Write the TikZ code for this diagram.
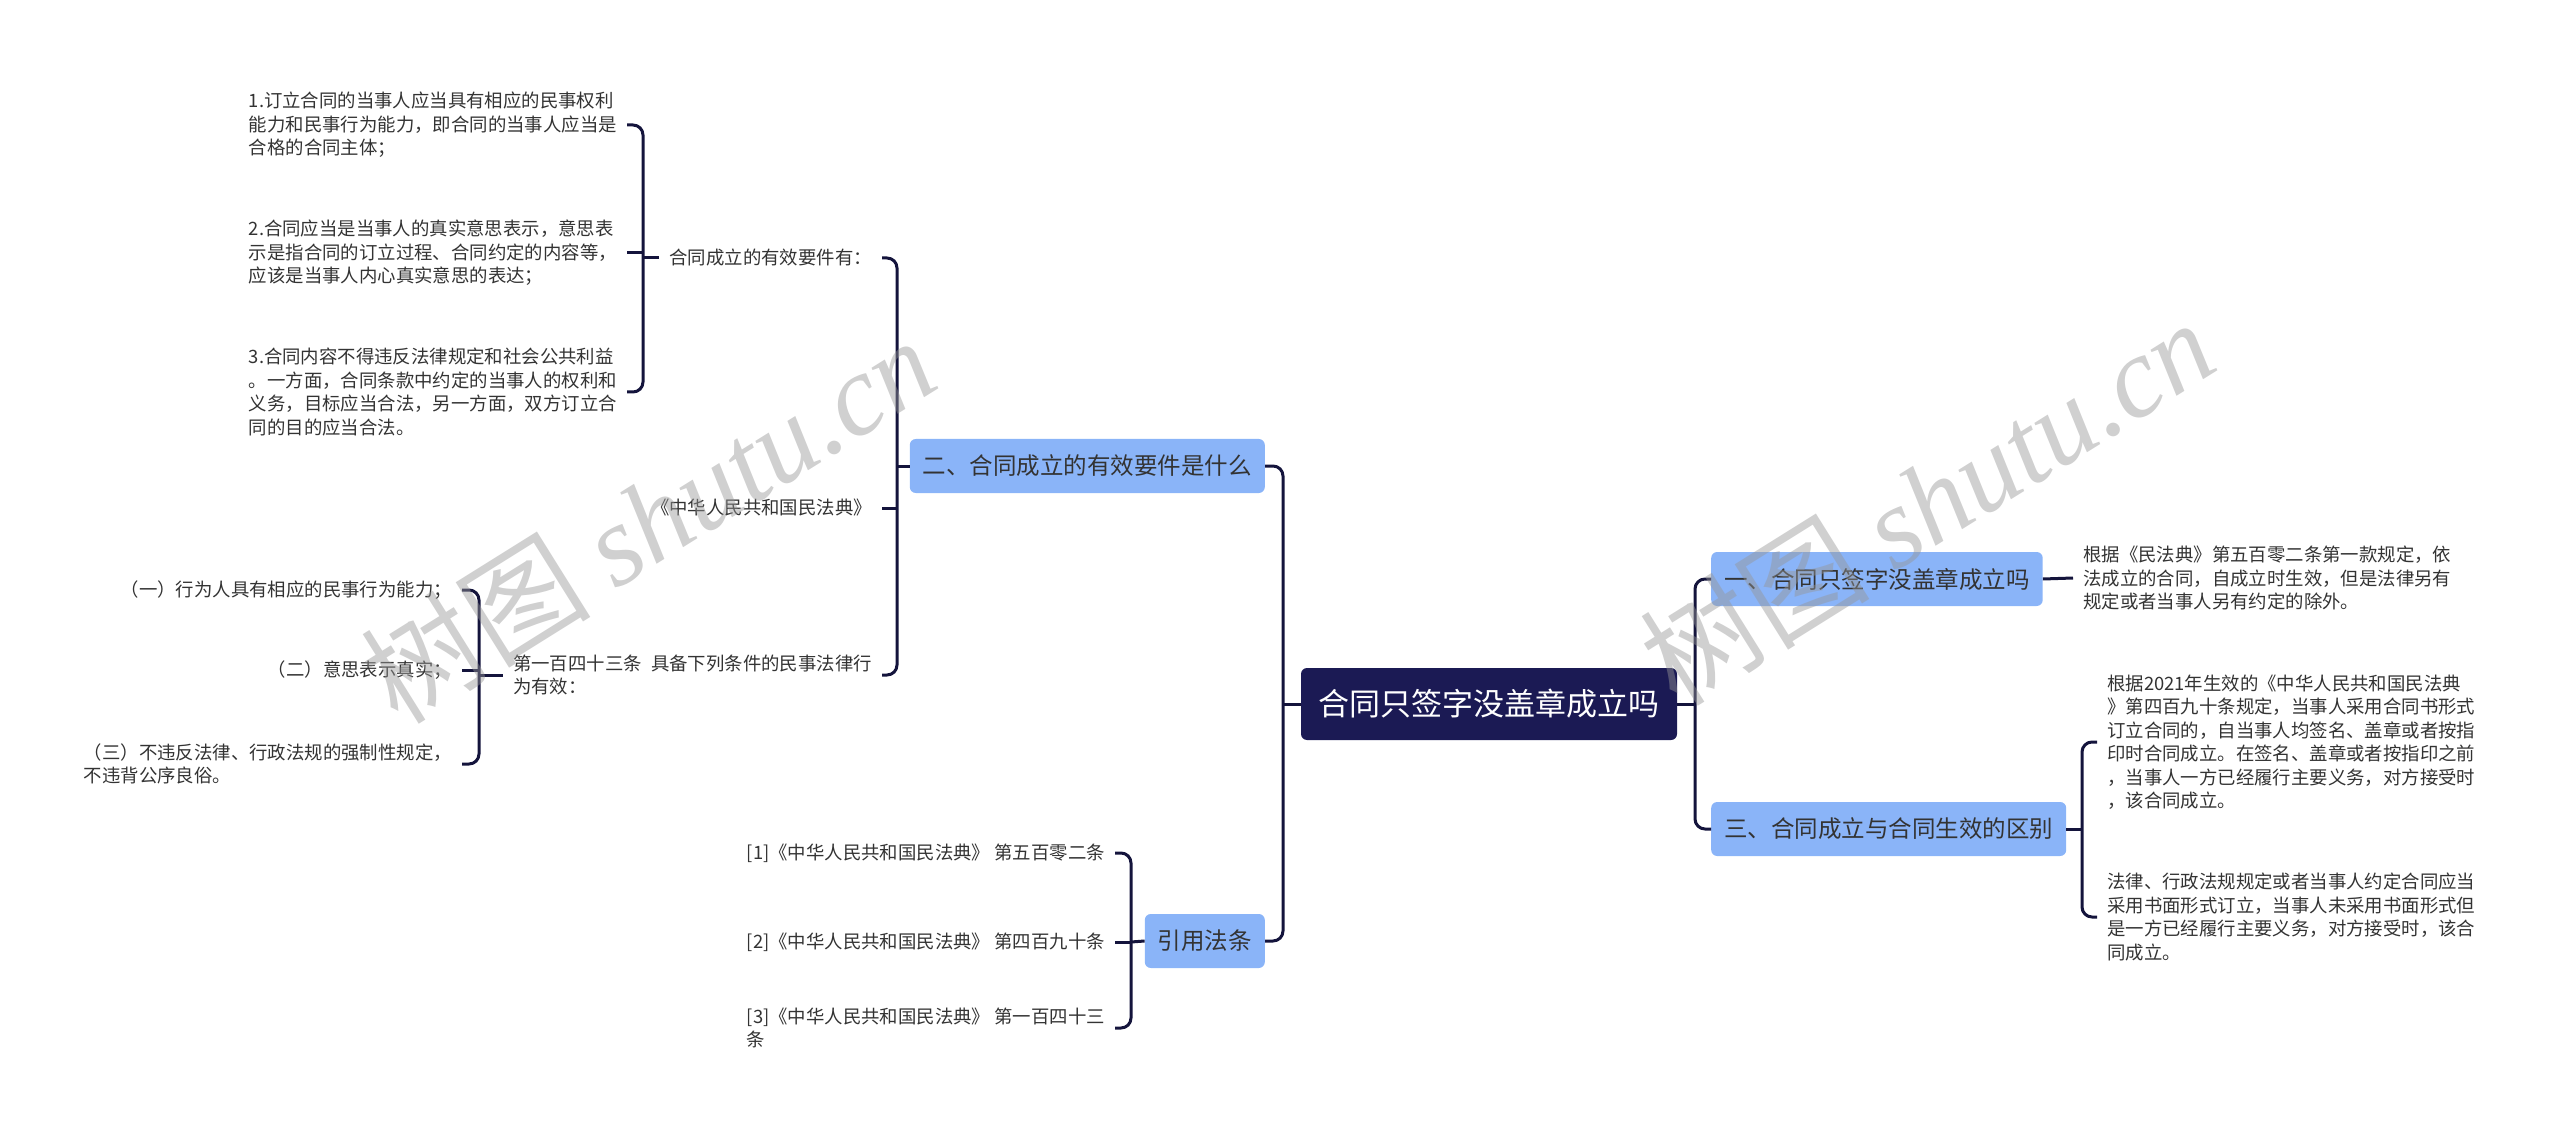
\documentclass[tikz,border=0pt]{standalone}
\usepackage{fontspec}
\setmainfont{Noto Sans CJK SC}
\newfontfamily\wmlatin{Liberation Serif}
\usetikzlibrary{calc}
\definecolor{navy}{RGB}{27,26,84}
\definecolor{linec}{RGB}{20,20,60}
\definecolor{bluef}{RGB}{138,180,248}
\definecolor{txt}{RGB}{51,51,51}
\definecolor{wmc}{RGB}{150,150,150}
\begin{document}
\begin{tikzpicture}[x=1pt,y=-1pt,
  conn/.style={draw=linec,line width=3pt,rounded corners=10pt},
  rootbox/.style={fill=navy,text=white,rounded corners=6pt,minimum width=376pt,minimum height=72pt,font=\fontsize{31}{36}\selectfont,inner sep=0pt},
  topic/.style={fill=bluef,text=txt,rounded corners=6pt,minimum height=54pt,inner xsep=13pt,inner ysep=0pt,font=\fontsize{23.5}{28}\selectfont},
  leaf/.style={text=txt,align=left,inner xsep=10pt,inner ysep=2pt,font=\fontsize{18.4}{23.5}\selectfont},
  wmark/.style={rotate=32,text=wmc,text opacity=0.45,font=\fontsize{115}{120}\selectfont},
]
\useasboundingbox (0,0) rectangle (2560,1139);

% main nodes
\node[rootbox] (root) at (1489,704) {合同只签字没盖章成立吗};
\node[topic,anchor=west] (n1) at (1711,579) {一、合同只签字没盖章成立吗};
\node[topic,anchor=west] (n3) at (1711,829) {三、合同成立与合同生效的区别};
\node[topic,anchor=east] (n2) at (1265,466) {二、合同成立的有效要件是什么};
\node[topic,anchor=east] (n4) at (1265,941) {引用法条};

% right leaves
\node[leaf,anchor=west] (r1) at (2073,578) {根据《民法典》第五百零二条第一款规定，依\\法成立的合同，自成立时生效，但是法律另有\\规定或者当事人另有约定的除外。};
\node[leaf,anchor=west] (r2) at (2097,742) {根据2021年生效的《中华人民共和国民法典\\》第四百九十条规定，当事人采用合同书形式\\订立合同的，自当事人均签名、盖章或者按指\\印时合同成立。在签名、盖章或者按指印之前\\，当事人一方已经履行主要义务，对方接受时\\，该合同成立。};
\node[leaf,anchor=west] (r3) at (2097,917) {法律、行政法规规定或者当事人约定合同应当\\采用书面形式订立，当事人未采用书面形式但\\是一方已经履行主要义务，对方接受时，该合\\同成立。};

% left leaves
\node[leaf,anchor=east] (a1) at (882,258) {合同成立的有效要件有：};
\node[leaf,anchor=east] (a2) at (882,508) {《中华人民共和国民法典》};
\node[leaf,anchor=east] (a3) at (882,675) {第一百四十三条\hspace{0.5em}具备下列条件的民事法律行\\为有效：};
\node[leaf,anchor=east] (L1) at (627,125) {1.订立合同的当事人应当具有相应的民事权利\\能力和民事行为能力，即合同的当事人应当是\\合格的合同主体；};
\node[leaf,anchor=east] (L2) at (627,253) {2.合同应当是当事人的真实意思表示，意思表\\示是指合同的订立过程、合同约定的内容等，\\应该是当事人内心真实意思的表达；};
\node[leaf,anchor=east] (L3) at (627,392) {3.合同内容不得违反法律规定和社会公共利益\\。一方面，合同条款中约定的当事人的权利和\\义务，目标应当合法，另一方面，双方订立合\\同的目的应当合法。};
\node[leaf,anchor=east] (c1) at (462,590) {（一）行为人具有相应的民事行为能力；};
\node[leaf,anchor=east] (c2) at (462,670) {（二）意思表示真实；};
\node[leaf,anchor=east] (c3) at (462,764) {（三）不违反法律、行政法规的强制性规定，\\不违背公序良俗。};
\node[leaf,anchor=east] (d1) at (1115,853) {[1]《中华人民共和国民法典》 第五百零二条};
\node[leaf,anchor=east] (d2) at (1115,942) {[2]《中华人民共和国民法典》 第四百九十条};
\node[leaf,anchor=east] (d3) at (1115,1028) {[3]《中华人民共和国民法典》 第一百四十三\\条};

% junction coordinates
\coordinate (tL) at (1283,704);
\coordinate (tR) at (1695,704);
\coordinate (b2) at (897,466);
\coordinate (ba) at (643,258);
\coordinate (bc) at (479,675);
\coordinate (bd) at (1131,942);
\coordinate (b3) at (2082,829);

% connectors
\draw[conn] (n2.east) -| (tL) |- (n4.east);
\draw[conn] (root.west) -- (tL);
\draw[conn] (n1.west) -| (tR) |- (n3.west);
\draw[conn] (root.east) -- (tR);
\draw[conn] (n1.east) -- (r1.west);
\draw[conn] (r2.west) -| (b3) |- (r3.west);
\draw[conn] (n3.east) -- (b3);
\draw[conn] (a1.east) -| (b2) |- (a3.east);
\draw[conn] (n2.west) -- (b2);
\draw[conn] (a2.east) -- (a2.east -| b2);
\draw[conn] (L1.east) -| (ba) |- (L3.east);
\draw[conn] (a1.west) -- (ba);
\draw[conn] (L2.east) -- (L2.east -| ba);
\draw[conn] (c1.east) -| (bc) |- (c3.east);
\draw[conn] (a3.west) -- (bc);
\draw[conn] (c2.east) -- (c2.east -| bc);
\draw[conn] (d1.east) -| (bd) |- (d3.east);
\draw[conn] (n4.west) -- (bd);
\draw[conn] (d2.east) -- (d2.east -| bd);

% watermarks
\node[wmark] (wm1) at (648,519) {树图 {\wmlatin\itshape shutu.cn}};
\node[wmark] (wm2) at (1927,501) {树图 {\wmlatin\itshape shutu.cn}};
\end{tikzpicture}
\end{document}
